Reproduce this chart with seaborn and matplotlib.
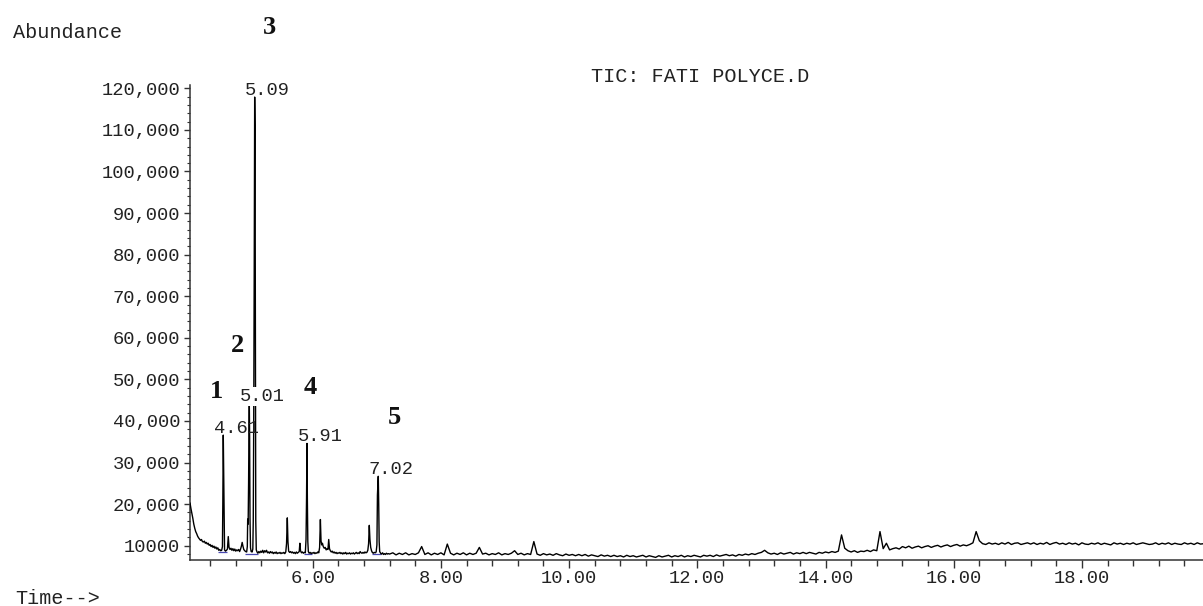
import numpy as np
import pandas as pd
import matplotlib
matplotlib.use("Agg")
import matplotlib.pyplot as plt
import seaborn as sns

# ---------------- data ----------------
# early part of the trace (retention time in min, abundance)
rt_early = [4.086, 4.10, 4.115, 4.13, 4.145, 4.16, 4.175, 4.19, 4.205, 4.22,
            4.235, 4.25, 4.265, 4.28, 4.295, 4.31, 4.325, 4.34, 4.355, 4.37,
            4.385, 4.40, 4.415, 4.43, 4.445, 4.46, 4.475, 4.49, 4.505, 4.52,
            4.535, 4.55, 4.565, 4.58, 4.592, 4.598, 4.605, 4.612, 4.618, 4.625,
            4.64, 4.655, 4.67, 4.683, 4.695, 4.71, 4.725, 4.74, 4.755, 4.77,
            4.785, 4.80, 4.815, 4.83, 4.845, 4.86, 4.875, 4.888, 4.90, 4.912,
            4.925, 4.94, 4.955, 4.97, 4.98, 4.986, 4.993, 5.000, 5.006, 5.011,
            5.016, 5.022, 5.030, 5.040, 5.055, 5.066, 5.073, 5.080, 5.088, 5.095,
            5.100, 5.105, 5.112, 5.120, 5.132, 5.145, 5.16, 5.175, 5.19, 5.205,
            5.22, 5.235, 5.25, 5.265, 5.28, 5.295, 5.31, 5.325, 5.34, 5.355,
            5.37, 5.385, 5.40, 5.415, 5.43, 5.445, 5.46, 5.475, 5.49, 5.505,
            5.52, 5.535, 5.55, 5.565, 5.58, 5.592, 5.604, 5.614, 5.625, 5.64,
            5.655, 5.67, 5.685, 5.70, 5.715, 5.73, 5.745, 5.76, 5.775, 5.79,
            5.80, 5.81, 5.825, 5.84, 5.855, 5.87, 5.885, 5.896, 5.904, 5.911,
            5.917, 5.924, 5.932, 5.945, 5.96, 5.975, 5.99, 6.005, 6.02, 6.035,
            6.05, 6.065, 6.08, 6.095, 6.108, 6.12, 6.13, 6.14, 6.152, 6.165,
            6.18, 6.195, 6.21, 6.225, 6.238, 6.25, 6.262, 6.275, 6.29, 6.305,
            6.32, 6.335, 6.35, 6.365, 6.38, 6.395, 6.41, 6.425, 6.44, 6.455,
            6.47, 6.485, 6.50, 6.515, 6.53, 6.545, 6.56, 6.575, 6.59, 6.605,
            6.62, 6.635, 6.65, 6.665, 6.68, 6.695, 6.71, 6.725, 6.74, 6.755,
            6.77, 6.785, 6.80, 6.815, 6.83, 6.845, 6.86, 6.872, 6.883, 6.893,
            6.905, 6.918, 6.93, 6.945, 6.96, 6.975, 6.99, 7.002, 7.010, 7.023,
            7.030, 7.037, 7.045, 7.06, 7.075, 7.09, 7.105, 7.12, 7.135, 7.15,
            7.165, 7.18]
ab_early = [20300, 19000, 17800, 16600, 15200, 14200, 13400, 12900, 12300, 11900,
            11600, 11300, 11500, 11000, 10900, 11100, 10600, 10800, 10400, 10600,
            10100, 10300, 9800, 10100, 9600, 9900, 9400, 9700, 9200, 9500,
            8900, 9100, 8800, 8900, 9800, 20000, 36600, 26200, 16000, 9000,
            8700, 8900, 9200, 12200, 9600, 9100, 9400, 8900, 9300, 8800,
            9200, 8700, 9000, 8800, 9100, 8600, 9200, 9900, 10800, 9900,
            9100, 8800, 8600, 8500, 9800, 16400, 15200, 25000, 38000, 44200,
            36000, 16500, 9500, 8600, 8500, 9200, 16000, 40000, 76400, 117900,
            111000, 76000, 16000, 9000, 8500, 8200, 8600, 8300, 8700, 8400,
            8900, 8300, 8800, 8500, 8900, 8300, 8500, 8200, 8600, 8300,
            8500, 8100, 8400, 8200, 8500, 8100, 8300, 8200, 8400, 8100,
            8300, 8200, 8400, 8100, 8500, 10500, 16700, 11000, 8700, 8400,
            8600, 8300, 8500, 8200, 8400, 8100, 8500, 8200, 8400, 8600,
            10600, 8800, 8300, 8500, 8200, 8400, 8300, 11500, 21400, 34600,
            21000, 11000, 8600, 8200, 8400, 8100, 8300, 8200, 8400, 8100,
            8300, 8200, 8500, 8300, 9600, 16300, 11200, 10200, 10600, 9800,
            9400, 9600, 9000, 9300, 9100, 11500, 9300, 8800, 8500, 8700,
            8300, 8500, 8200, 8400, 8100, 8300, 8200, 8400, 8100, 8300,
            8000, 8300, 8100, 8400, 8000, 8200, 8100, 8300, 8000, 8200,
            8100, 8300, 8000, 8200, 8400, 8100, 8300, 8100, 8600, 8300,
            8200, 8400, 8200, 8500, 8300, 8400, 8900, 10500, 14900, 11500,
            9600, 8800, 8400, 8200, 8400, 8300, 8500, 10200, 22200, 26700,
            20000, 11000, 8600, 8200, 8000, 8300, 7900, 8100, 7900, 8200,
            8000, 8100]

# later part of the trace: scans every 0.05 min from 7.20 min
late_start = 7.20
late_step = 0.05
ab_late = [
    8000, 8300, 7800, 8200, 7900, 8300, 7800, 8100, 7900, 8300,
    9800, 7900, 8300, 7800, 8200, 7900, 8300, 7800, 10400, 8200,
    7800, 8200, 7900, 8300, 7800, 8200, 7900, 8200, 9600, 8000,
    8200, 7800, 8100, 7900, 8300, 7800, 8100, 7900, 8200, 8800,
    7900, 8200, 7800, 8100, 7900, 11000, 8000, 7700, 8100, 7800,
    8000, 7700, 8100, 7800, 7600, 8000, 7700, 7900, 7600, 7900,
    7600, 7900, 7500, 7800, 7600, 7400, 7800, 7500, 7700, 7400,
    7700, 7400, 7600, 7300, 7700, 7400, 7600, 7300, 7500, 7700,
    7300, 7600, 7400, 7200, 7600, 7300, 7500, 7700, 7300, 7600,
    7400, 7700, 7300, 7600, 7400, 7700, 7500, 7300, 7700, 7500,
    7700, 7400, 7800, 7500, 7700, 7900, 7600, 7800, 7500, 7900,
    7700, 8000, 7800, 8100, 7900, 8200, 8400, 8900, 8300, 8000,
    8200, 7900, 8300, 8000, 8200, 8400, 8000, 8300, 8100, 8400,
    8100, 8400, 8200, 8000, 8400, 8200, 8500, 8300, 8600, 8400,
    8700, 12600, 9400, 8800, 8500, 8800, 8400, 8700, 8600, 8900,
    8600, 9000, 8800, 13400, 9300, 10600, 9000, 9300, 9500, 9200,
    9800, 9500, 9900, 9400, 9700, 9900, 9500, 9800, 10000, 9600,
    9900, 10100, 9700, 10000, 10200, 9800, 10100, 10300, 9900, 10200,
    10000, 10300, 10700, 13400, 11200, 10500, 10300, 10700, 10400, 10600,
    10300, 10700, 10400, 10800, 10300, 10600, 10700, 10300, 10500, 10700,
    10400, 10700, 10300, 10600, 10400, 10800, 10300, 10600, 10800, 10400,
    10600, 10300, 10700, 10400, 10600, 10200, 10700, 10400, 10300, 10600,
    10400, 10700, 10300, 10600, 10400, 10200, 10700, 10400, 10600, 10300,
    10600, 10400, 10700, 10300, 10500, 10700, 10500, 10300, 10400, 10700,
    10300, 10600, 10400, 10700, 10300, 10600, 10400, 10300, 10700, 10400,
    10600, 10300, 10700, 10400, 10500,
]

# labelled peaks
peak_labels = ["4.61", "5.01", "5.09", "5.91", "7.02"]
peak_rt = [4.605, 5.011, 5.095, 5.911, 7.023]
peak_top = [36600, 44200, 117900, 34600, 26700]

# integration baselines (blue segments under labelled peaks)
integ_start = [4.52, 4.94, 5.86, 6.93]
integ_end = [4.67, 5.15, 5.99, 7.06]
integ_level = [8560, 8100, 7900, 8000]

# axis ticks
x_major = [6, 8, 10, 12, 14, 16, 18]
x_major_labels = ["6.00", "8.00", "10.00", "12.00", "14.00", "16.00", "18.00"]
y_major = [10000, 20000, 30000, 40000, 50000, 60000, 70000, 80000, 90000,
           100000, 110000, 120000]
y_major_labels = ["10000", "20,000", "30,000", "40,000", "50,000", "60,000",
                  "70,000", "80,000", "90,000", "100,000", "110,000", "120,000"]

# ---------------- build table ----------------
late_t = np.round(late_start + late_step * np.arange(len(ab_late)), 3)
df = pd.DataFrame({
    "Time": np.concatenate([np.array(rt_early), late_t]),
    "Abundance": np.concatenate([np.array(ab_early), np.array(ab_late)]),
})

# ---------------- figure ----------------
sns.set_style("ticks")
plt.rcParams["font.family"] = ["Liberation Mono", "DejaVu Sans Mono"]

W, H = 1203, 606
fig = plt.figure(figsize=(W / 100, H / 100), dpi=100)
ax = fig.add_axes([190 / W, 1 - 560 / H, (W - 190) / W, (560 - 85) / H])

sns.lineplot(data=df, x="Time", y="Abundance", ax=ax, color="black",
             linewidth=1.0, estimator=None, sort=False, zorder=3)
ax.hlines(integ_level, integ_start, integ_end, color="#4848b0", linewidth=0.9,
          zorder=2)

ax.set_xlim(4.086, 19.889)
ax.set_ylim(6570, 120800)
ax.set_xlabel("")
ax.set_ylabel("")

for s in ["top", "right"]:
    ax.spines[s].set_visible(False)
for s in ["left", "bottom"]:
    ax.spines[s].set_color("#333333")
    ax.spines[s].set_linewidth(1.1)

ax.set_xticks(x_major)
ax.set_xticklabels(x_major_labels)
ax.set_xticks(np.round(np.arange(4.4, 19.9, 0.4), 2), minor=True)
ax.tick_params(axis="x", which="major", length=6, width=1, color="#333333",
               pad=1, labelsize=13.5, labelcolor="#222222")
ax.tick_params(axis="x", which="minor", length=4, width=1, color="#333333")

ax.set_yticks(y_major)
ax.set_yticklabels(y_major_labels)
ax.set_yticks(np.arange(8000, 120001, 2000), minor=True)
ax.tick_params(axis="y", which="major", length=4, width=1, color="#333333",
               pad=3, labelsize=13.5, labelcolor="#222222")
ax.tick_params(axis="y", which="minor", length=2.5, width=0.8, color="#333333")

# peak retention-time labels
for lbl, rt, top in zip(peak_labels, peak_rt, peak_top):
    kw = {}
    if lbl == "5.01":
        kw["bbox"] = dict(facecolor="white", edgecolor="none", pad=1)
    ax.annotate(lbl, xy=(rt, top), xytext=(9.4, 5.0), textcoords="offset points",
                ha="center", va="center", fontsize=13.5, color="#222222",
                zorder=6, annotation_clip=False, **kw)


def fx(x):
    return x / W


def fy(y):
    return 1 - y / H


fig.text(fx(13), fy(32), "Abundance", ha="left", va="center", fontsize=14.5,
         color="#222222")
fig.text(fx(700), fy(76), "TIC: FATI POLYCE.D", ha="center", va="center",
         fontsize=14.5, color="#222222")
fig.text(fx(15), fy(598), "Time-->", ha="left", va="center", fontsize=14.5,
         color="#222222")

# compound numbers
num_labels = ["1", "2", "3", "4", "5"]
num_pos = [(216, 391), (238, 346), (269.5, 27), (310, 387), (394, 417)]
for n, (px, py) in zip(num_labels, num_pos):
    fig.text(fx(px), fy(py), n, ha="center", va="center", fontsize=19,
             fontweight="bold", family=["Liberation Serif", "DejaVu Serif"],
             color="#111111")

fig.savefig("out.png", dpi=100)
